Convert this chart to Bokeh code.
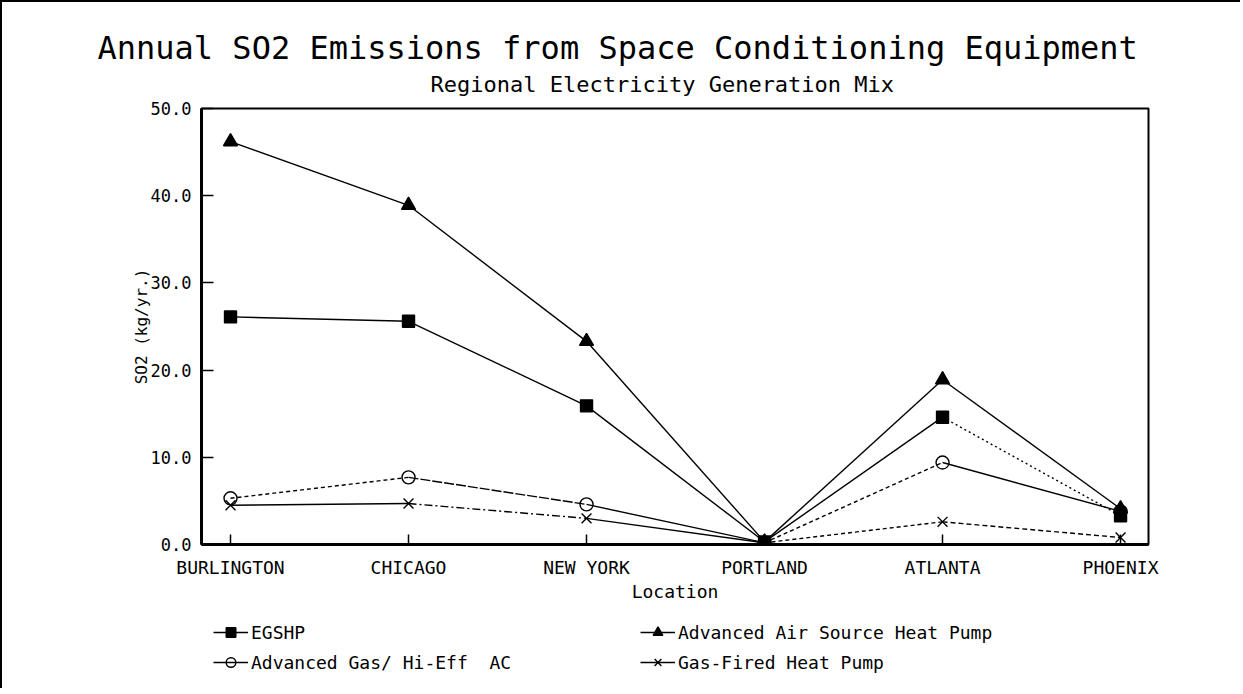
from bokeh.plotting import figure
from bokeh.layouts import column
from bokeh.models import (Range1d, FixedTicker, NumeralTickFormatter, Title,
                          Legend, LegendItem)
from bokeh.embed import file_html
from bokeh.resources import INLINE

# ---------------- data ----------------
locations = ["BURLINGTON", "CHICAGO", "NEW YORK", "PORTLAND", "ATLANTA", "PHOENIX"]
egshp = [26.1, 25.6, 15.9, 0.3, 14.6, 3.3]
adv_air_hp = [46.2, 38.9, 23.3, 0.3, 18.9, 4.1]
adv_gas_ac = [5.3, 7.7, 4.6, 0.2, 9.4, 3.8]
gas_fired_hp = [4.5, 4.7, 3.0, 0.2, 2.6, 0.8]
y_ticks = [0, 10, 20, 30, 40, 50]

FONT = "DejaVu Sans Mono"
NAN = float("nan")

series = [
    ("EGSHP", egshp, "square", True,
     ["solid", "solid", "solid", "solid", "2 3"]),
    ("Advanced Air Source Heat Pump", adv_air_hp, "triangle", True,
     ["solid", "solid", "solid", "solid", "solid"]),
    ("Advanced Gas/ Hi-Eff  AC", adv_gas_ac, "circle", False,
     ["4 3", "10 2", "solid", "4 3", "solid"]),
    ("Gas-Fired Heat Pump", gas_fired_hp, "x", False,
     ["solid", "8 3 2 3", "solid", "4 3", "5 3"]),
]
MARKER_SIZE = {"square": 12, "triangle": 14, "circle": 13, "x": 14}

xs = list(range(len(locations)))

p = figure(width=1238, height=606, output_backend="svg", toolbar_location=None,
           x_range=Range1d(-0.163, 5.157), y_range=Range1d(0, 50),
           min_border_left=199, min_border_right=92, min_border_top=106,
           min_border_bottom=64)

p.grid.visible = False
p.outline_line_color = "black"
p.outline_line_width = 2

# axes
p.xaxis.ticker = FixedTicker(ticks=xs)
p.xaxis.major_label_overrides = {i: n for i, n in enumerate(locations)}
p.yaxis.ticker = FixedTicker(ticks=y_ticks)
p.yaxis.formatter = NumeralTickFormatter(format="0.0")
for ax in (p.xaxis[0], p.yaxis[0]):
    ax.axis_line_width = 3
    ax.axis_line_color = "black"
    ax.major_tick_in = 12
    ax.major_tick_out = 0
    ax.minor_tick_line_color = None
    ax.major_tick_line_width = 1.5
    ax.major_label_text_font = FONT
    ax.major_label_text_color = "black"
    ax.axis_label_text_font = FONT
    ax.axis_label_text_font_style = "normal"
    ax.axis_label_text_color = "black"
p.xaxis.major_tick_in = 10
p.xaxis.major_label_text_font_size = "18px"
p.xaxis.major_label_standoff = 12
p.xaxis.axis_label = "Location"
p.xaxis.axis_label_text_font_size = "18px"
p.xaxis.axis_label_standoff = 0
p.yaxis.major_label_text_font_size = "17px"
p.yaxis.major_label_standoff = 10
p.yaxis.axis_label = "SO2 (kg/yr.)"
p.yaxis.axis_label_text_font_size = "16px"
p.yaxis.axis_label_standoff = -3

# titles (first added = closest to frame)
p.add_layout(Title(text="Regional Electricity Generation Mix", text_font=FONT,
                   text_font_size="22px", text_font_style="normal",
                   text_color="black",
                   align="left", offset=229, standoff=24), "above")
p.add_layout(Title(text="Annual SO2 Emissions from Space Conditioning Equipment",
                   text_font=FONT, text_font_size="32px", text_font_style="normal",
                   text_color="black",
                   align="left", offset=-104, standoff=-18), "above")

# legend lives in a small companion figure below the chart
leg_fig = figure(width=1238, height=80, output_backend="svg",
                 toolbar_location=None, x_range=Range1d(0, 1),
                 y_range=Range1d(0, 1), min_border=0)
leg_fig.axis.visible = False
leg_fig.grid.visible = False
leg_fig.outline_line_color = None

items = {}
for name, vals, marker, filled, dashes in series:
    for i in range(len(xs) - 1):
        p.line(xs[i:i + 2], vals[i:i + 2], line_color="black",
               line_width=1.4, line_dash=dashes[i])
    style = dict(marker=marker, size=MARKER_SIZE[marker], line_color="black",
                 line_width=1.4, fill_color="black" if filled else "white",
                 fill_alpha=1.0 if filled else 0.0)
    p.scatter(xs, vals, **style)
    # legend proxies (NaN data: nothing is drawn, only the legend look)
    lr = leg_fig.line([NAN], [NAN], line_color="black", line_width=1.4)
    sr = leg_fig.scatter([NAN], [NAN], **style)
    items[name] = LegendItem(label=name, renderers=[lr, sr])

order = ["EGSHP", "Advanced Gas/ Hi-Eff  AC",
         "Advanced Air Source Heat Pump", "Gas-Fired Heat Pump"]
legend = Legend(items=[items[n] for n in order], location=(12, 14), ncols=2,
                label_text_font=FONT, label_text_font_size="18px",
                label_text_color="black",
                glyph_width=35, glyph_height=24, label_height=24,
                label_width=383, label_standoff=3, spacing=6,
                padding=0, margin=0, border_line_color=None,
                background_fill_alpha=0)
leg_fig.add_layout(legend)

layout = column(p, leg_fig, spacing=0,
                styles={"border-left": "2px solid black",
                        "border-top": "2px solid black"})

open("out.html", "w").write(file_html(layout, INLINE))
